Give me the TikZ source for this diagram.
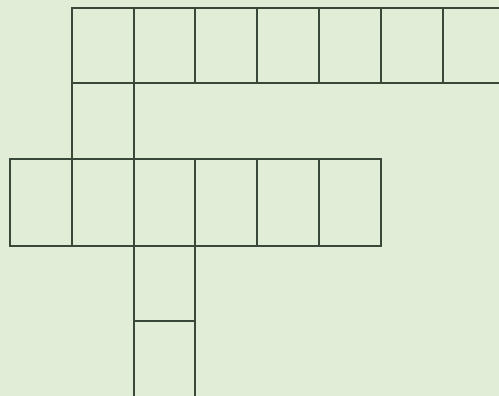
\documentclass[tikz,border=0pt]{standalone}
\usepackage{xcolor}
\usepackage{tikz}
\definecolor{PaleGreen}{RGB}{226,237,216}
\definecolor{GridGray}{RGB}{58,72,58}
\tikzset{cellline/.style={line width=0.65mm, GridGray}}

\begin{document}
\begin{tikzpicture}[x=0.5mm, y=-0.5mm]
		\fill[PaleGreen] (0,0) rectangle (499,396);
		\useasboundingbox (0,0) rectangle (499,396);
		% top row, open to the right
		\draw[cellline] (499,8) -- (72,8) -- (72,83) -- (499,83);
		\foreach \x in {134,195,257,319,381,443}
			\draw[cellline] (\x,8) -- (\x,83);
		% single cell below
		\draw[cellline] (72,83) -- (72,159);
		\draw[cellline] (134,83) -- (134,159);
		% middle row
		\draw[cellline] (10,159) rectangle (381,246);
		\foreach \x in {72,134,195,257,319}
			\draw[cellline] (\x,159) -- (\x,246);
		% column going down, open at the bottom
		\draw[cellline] (134,246) -- (134,396);
		\draw[cellline] (195,246) -- (195,396);
		\draw[cellline] (134,321) -- (195,321);
	\end{tikzpicture}
\end{document}
